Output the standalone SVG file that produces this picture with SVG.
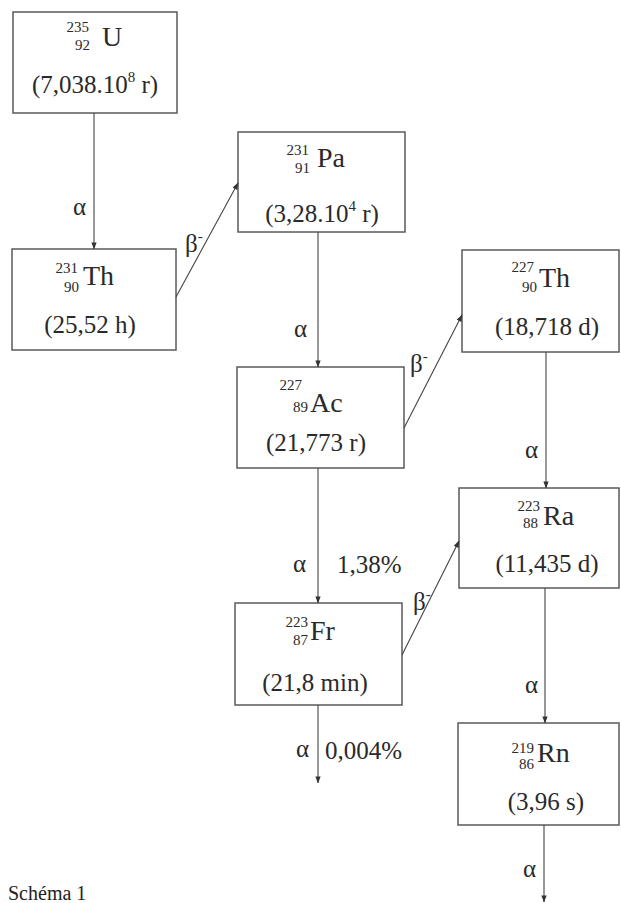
<svg xmlns="http://www.w3.org/2000/svg" width="621" height="903" viewBox="0 0 621 903">
<defs>
<marker id="ah" viewBox="0 0 8 8" refX="7.5" refY="4" markerWidth="7" markerHeight="7" markerUnits="userSpaceOnUse" orient="auto"><path d="M0,1 L8,4 L0,7 z" fill="#333"/></marker>
</defs>
<style>
.box{fill:none;stroke:#5a5a5a;stroke-width:1.5}
.sym{font-family:"Liberation Serif","Times New Roman",serif;font-size:28px;fill:#2a2a2a}
.num{font-family:"Liberation Serif","Times New Roman",serif;font-size:15px;fill:#2a2a2a;text-anchor:end}
.hl{font-family:"Liberation Serif","Times New Roman",serif;font-size:25px;fill:#2a2a2a;text-anchor:middle}
.lbl{font-family:"Liberation Serif","Times New Roman",serif;font-size:25px;fill:#2a2a2a}
.cap{font-family:"Liberation Serif","Times New Roman",serif;font-size:20px;fill:#222}
.arr{stroke:#444;stroke-width:1.1;fill:none;marker-end:url(#ah)}
</style>
<rect width="621" height="903" fill="#ffffff"/>
<g id="U235">
<rect class="box" x="13" y="12" width="164" height="101"/>
<text class="num" x="89" y="32">235</text>
<text class="num" x="90" y="50">92</text>
<text class="sym" x="102" y="46">U</text>
<text class="hl" x="95" y="93">(7,038.10<tspan font-size="15" dy="-11">8</tspan><tspan dy="11"> r)</tspan></text>
</g>
<g id="Th231">
<rect class="box" x="12" y="249" width="164" height="101"/>
<text class="num" x="78" y="273">231</text>
<text class="num" x="79" y="292">90</text>
<text class="sym" x="83" y="285">Th</text>
<text class="hl" x="90" y="333">(25,52 h)</text>
</g>
<g id="Pa231">
<rect class="box" x="238" y="132" width="167" height="100"/>
<text class="num" x="309" y="155">231</text>
<text class="num" x="310" y="173">91</text>
<text class="sym" x="317" y="167">Pa</text>
<text class="hl" x="322" y="222">(3,28.10<tspan font-size="15" dy="-11">4</tspan><tspan dy="11"> r)</tspan></text>
</g>
<g id="Ac227">
<rect class="box" x="237" y="367" width="167" height="101"/>
<text class="num" x="302" y="390">227</text>
<text class="num" x="308" y="412">89</text>
<text class="sym" x="310" y="412">Ac</text>
<text class="hl" x="316" y="451">(21,773 r)</text>
</g>
<g id="Fr223">
<rect class="box" x="235" y="603" width="167" height="102"/>
<text class="num" x="308" y="627">223</text>
<text class="num" x="308" y="645">87</text>
<text class="sym" x="310" y="640">Fr</text>
<text class="hl" x="315" y="691">(21,8 min)</text>
</g>
<g id="Th227">
<rect class="box" x="462" y="250" width="157" height="102"/>
<text class="num" x="534" y="272">227</text>
<text class="num" x="537" y="292">90</text>
<text class="sym" x="539" y="287">Th</text>
<text class="hl" x="547" y="335">(18,718 d)</text>
</g>
<g id="Ra223">
<rect class="box" x="459" y="488" width="160" height="100"/>
<text class="num" x="540" y="511">223</text>
<text class="num" x="538" y="528">88</text>
<text class="sym" x="543" y="525">Ra</text>
<text class="hl" x="547" y="572">(11,435 d)</text>
</g>
<g id="Rn219">
<rect class="box" x="458" y="723" width="161" height="102"/>
<text class="num" x="534" y="753">219</text>
<text class="num" x="534" y="769">86</text>
<text class="sym" x="537" y="762">Rn</text>
<text class="hl" x="546" y="810">(3,96 s)</text>
</g>
<g id="connectors">
<path class="arr" d="M94,113 L94,249"/>
<path class="arr" d="M318,232 L318,367"/>
<path class="arr" d="M318,468 L318,603"/>
<path class="arr" d="M318,705 L318,783"/>
<path class="arr" d="M546,352 L546,488"/>
<path class="arr" d="M545,588 L545,723"/>
<path class="arr" d="M544,825 L544,902"/>
<path class="arr" d="M176,297 L238,183"/>
<path class="arr" d="M404,428 L462,315"/>
<path class="arr" d="M402,655 L459,541"/>
<text class="lbl" x="73" y="215">α</text>
<text class="lbl" x="294" y="337">α</text>
<text class="lbl" x="293" y="572">α</text>
<text class="lbl" x="337" y="573">1,38%</text>
<text class="lbl" x="296" y="757">α</text>
<text class="lbl" x="325" y="759">0,004%</text>
<text class="lbl" x="525" y="458">α</text>
<text class="lbl" x="525" y="693">α</text>
<text class="lbl" x="523" y="877">α</text>
<text class="lbl" x="185" y="252">β<tspan font-size="15" dy="-11">-</tspan></text>
<text class="lbl" x="410" y="372">β<tspan font-size="15" dy="-11">-</tspan></text>
<text class="lbl" x="413" y="610">β<tspan font-size="15" dy="-11">-</tspan></text>
</g>
<text class="cap" x="8" y="900">Schéma 1</text>
</svg>
